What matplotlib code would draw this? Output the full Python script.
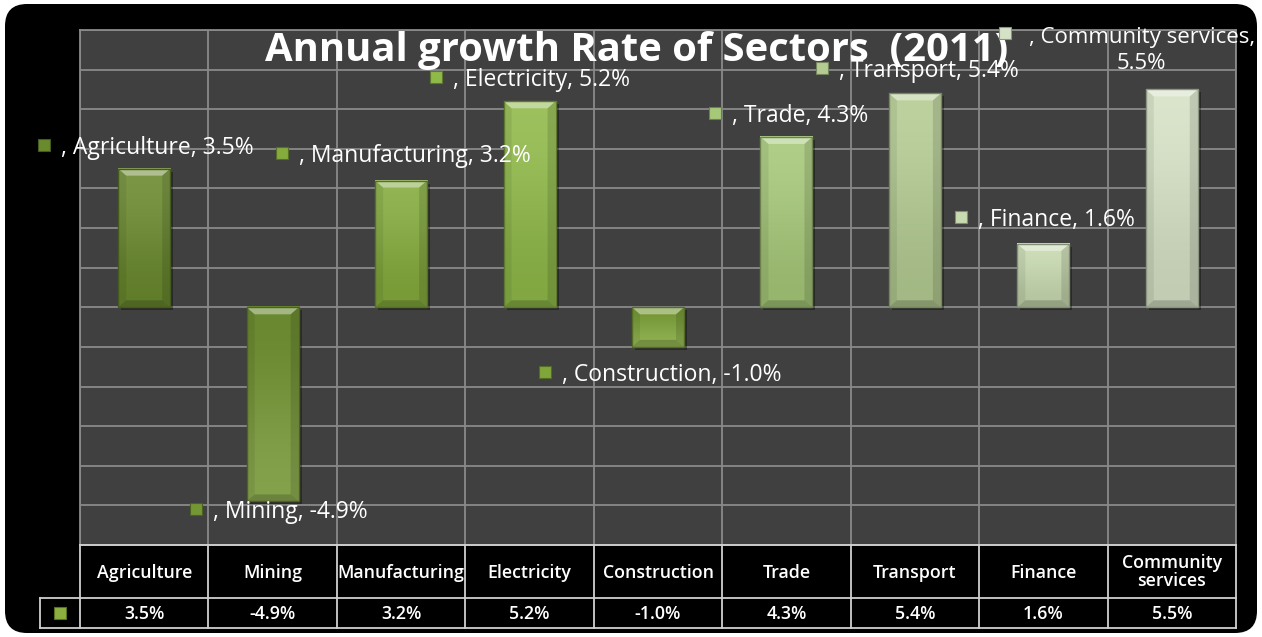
import numpy as np
import matplotlib
matplotlib.use("Agg")
import matplotlib.pyplot as plt
from matplotlib.patches import FancyBboxPatch, Polygon, Rectangle
from matplotlib.colors import to_rgb
from matplotlib import transforms

plt.rcParams["font.family"] = ["Open Sans", "DejaVu Sans"]

# ---- data -------------------------------------------------------------
sectors = ["Agriculture", "Mining", "Manufacturing", "Electricity", "Construction",
           "Trade", "Transport", "Finance", "Community services"]
growth = [3.5, -4.9, 3.2, 5.2, -1.0, 4.3, 5.4, 1.6, 5.5]
table_headers = ["Agriculture", "Mining", "Manufacturing", "Electricity", "Construction",
                 "Trade", "Transport", "Finance", "Community\nservices"]
title = "Annual growth Rate of Sectors  (2011)"

# ---- style ------------------------------------------------------------
bar_colors = ["#6a8a2e", "#749634", "#84ab3c", "#8fb948", "#80a63a",
              "#a6c878", "#b4cc92", "#c8dab0", "#d6e2c6"]
# data-label anchor: (offset from category centre, height in axis units)
label_pos = [(-0.78, 4.10), (-0.60, -5.09), (-0.93, 3.90), (-0.73, 5.82),
             (-0.88, -1.63), (-0.56, 4.91), (-0.72, 6.05), (-0.64, 2.29),
             (-1.30, 6.93)]
label_wrap = [False] * 8 + [True]

W, H = 1262, 637
AX_L, AX_R, AX_T, AX_B = 80, 1236, 30, 545
YMIN, YMAX = -6, 7
GRID = "#8a8a8a"
PANEL = "#404040"
LINE = "#d0d0d0"


def shade(c, f):
    r = np.array(to_rgb(c))
    if f >= 0:
        return tuple(r + (1 - r) * f)
    return tuple(r * (1 + f))


fig = plt.figure(figsize=(W / 100, H / 100), dpi=100, facecolor="white")

# full-figure canvas in pixel units (origin top-left)
bg = fig.add_axes([0, 0, 1, 1])
bg.set_xlim(0, W)
bg.set_ylim(H, 0)
bg.axis("off")
bg.add_patch(FancyBboxPatch((5 + 22, 4 + 22), W - 10 - 44, H - 8 - 44,
                            boxstyle="round,pad=22", fc="black", ec="none"))

ax = fig.add_axes([AX_L / W, (H - AX_B) / H, (AX_R - AX_L) / W, (AX_B - AX_T) / H])
ax.set_facecolor(PANEL)
n = len(sectors)
ax.set_xticks(np.arange(-0.5, n, 1))
ax.set_yticks(np.arange(YMIN, YMAX + 1, 1))
ax.grid(True, color=GRID, lw=1.3)
ax.set_axisbelow(True)
ax.tick_params(length=0, labelleft=False, labelbottom=False)
for s in ax.spines.values():
    s.set_color(GRID)
    s.set_linewidth(1.3)

px_x = n / (AX_R - AX_L)              # data units per pixel, horizontally
px_y = (YMAX - YMIN) / (AX_B - AX_T)  # data units per pixel, vertically
bw = 0.405
bx, by = 8 * px_x, 7 * px_y

for i, (v, c) in enumerate(zip(growth, bar_colors)):
    x0, x1 = i - bw / 2, i + bw / 2
    yb, yt = min(0, v), max(0, v)
    light, dark = shade(c, 0.12), shade(c, -0.10)
    top_c, bot_c = (light, dark) if v >= 0 else (dark, light)
    # soft drop shadow
    ax.add_patch(Rectangle((x0 + 3 * px_x, yb - 3 * px_y), bw, yt - yb,
                           fc="black", alpha=0.35, ec="none", zorder=2))
    grad = np.array([[top_c], [bot_c]])
    ax.imshow(grad, extent=[x0, x1, yb, yt], aspect="auto",
              interpolation="bicubic", zorder=3)
    # bevelled edges
    ax.add_patch(Polygon([(x0, yt), (x1, yt), (x1 - bx, yt - by), (x0 + bx, yt - by)],
                         fc="white", alpha=0.4, ec="none", zorder=4))
    ax.add_patch(Polygon([(x0, yb), (x1, yb), (x1 - bx, yb + by), (x0 + bx, yb + by)],
                         fc="black", alpha=0.18, ec="none", zorder=4))
    ax.add_patch(Polygon([(x0, yb), (x0, yt), (x0 + bx, yt - by), (x0 + bx, yb + by)],
                         fc="black", alpha=0.07, ec="none", zorder=4))
    ax.add_patch(Polygon([(x1, yb), (x1, yt), (x1 - bx, yt - by), (x1 - bx, yb + by)],
                         fc="black", alpha=0.12, ec="none", zorder=4))
    ax.add_patch(Rectangle((x0, yb), bw, yt - yb, fc="none",
                           ec=shade(c, -0.35), lw=1.0, zorder=5))

ax.set_xlim(-0.5, n - 0.5)
ax.set_ylim(YMIN, YMAX)

# title
ax.text((637 - AX_L) * px_x - 0.5, YMAX - (50 - AX_T) * px_y, title,
        color="white", fontsize=28.8, fontweight="bold", ha="center", va="center",
        zorder=6)

# data labels
for i, (v, c) in enumerate(zip(growth, bar_colors)):
    dx, ly = label_pos[i]
    lx = i + dx
    ax.plot(lx, ly, marker="s", ms=8.5, mfc=c, mec=shade(c, -0.35), mew=0.8,
            clip_on=False, zorder=7)
    sep = "\n" if label_wrap[i] else " "
    txt = f", {sectors[i]},{sep}{v:.1f}%"
    if label_wrap[i]:
        tr = transforms.offset_copy(ax.transData, fig=fig, x=24, y=6, units="dots")
        ax.text(lx, ly, txt, transform=tr, color="white", fontsize=16, ha="left",
                va="top", multialignment="center", linespacing=1.35,
                clip_on=False, zorder=8)
    else:
        tr = transforms.offset_copy(ax.transData, fig=fig, x=17, y=-3, units="dots")
        ax.text(lx, ly, txt, transform=tr, color="white", fontsize=16.5,
                ha="left", va="center", clip_on=False, zorder=8)

# data table below the plot
tt = transforms.blended_transform_factory(ax.transData, bg.transData)
HDR_T, HDR_B, VAL_B = 545, 598, 628
key_l = -0.5 - 40 * px_x
kw = dict(transform=tt, color=LINE, lw=1.3, clip_on=False, zorder=3)
ax.plot([-0.5, n - 0.5], [HDR_T, HDR_T], **kw)
ax.plot([key_l, n - 0.5], [HDR_B, HDR_B], **kw)
ax.plot([key_l, n - 0.5], [VAL_B, VAL_B], **kw)
for e in np.arange(-0.5, n, 1):
    ax.plot([e, e], [HDR_T, VAL_B], **kw)
ax.plot([key_l, key_l], [HDR_B, VAL_B], **kw)

for i in range(n):
    ax.text(i, (HDR_T + HDR_B) / 2 + 1, table_headers[i], transform=tt, color="white",
            fontsize=12.8, fontweight="semibold", ha="center", va="center",
            linespacing=1.0, clip_on=False)
    ax.text(i, (HDR_B + VAL_B) / 2 + 1, f"{growth[i]:.1f}%", transform=tt, color="white",
            fontsize=12.8, fontweight="semibold", ha="center", va="center", clip_on=False)

ax.plot((key_l - 0.5) / 2, (HDR_B + VAL_B) / 2, marker="s", ms=8, mfc="#8cb040",
        mec="#5a7020", mew=0.8, transform=tt, clip_on=False)

fig.savefig("out.png", dpi=100, facecolor="white")
